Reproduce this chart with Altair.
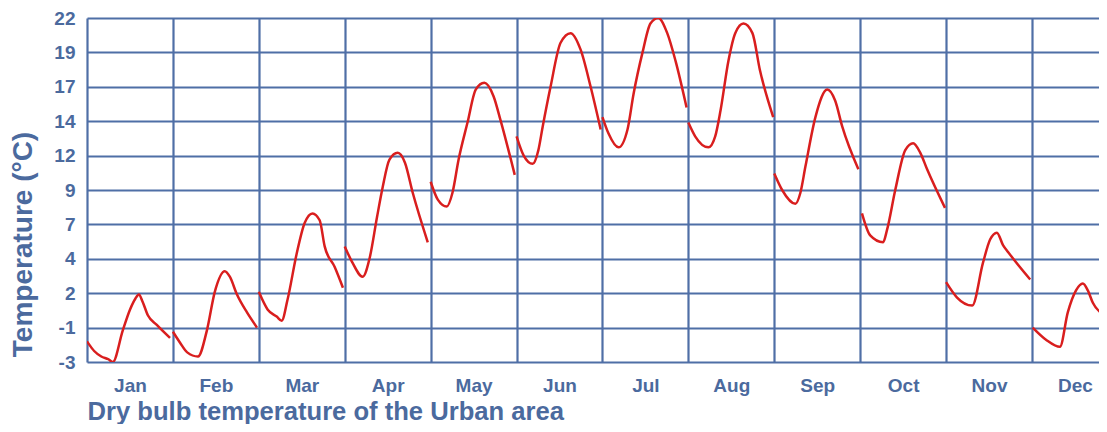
import altair as alt
import pandas as pd

months = ["Jan", "Feb", "Mar", "Apr", "May", "Jun", "Jul", "Aug", "Sep", "Oct", "Nov", "Dec"]

# hour of day (key points) and temperature in °C
hours_jan = [0, 2, 4, 6, 7.2, 10, 12, 13.5, 14.5, 15.5, 17, 19.5, 23.2]
temp_jan = [-1.5, -2.2, -2.6, -2.8, -3.0, -0.7, 0.8, 1.6, 1.9, 1.4, 0.4, -0.3, -1.25]
hours_feb = [0, 2, 4, 7, 9.5, 11.7, 14.5, 15.9, 17.9, 20.7, 23.5]
temp_feb = [-0.8, -1.6, -2.3, -2.6, -0.7, 2.1, 3.6, 3.2, 1.9, 0.6, -0.5]
hours_mar = [0, 2.5, 5, 6.4, 8, 10.6, 12.8, 15, 17, 18.4, 21.2, 23.5]
temp_mar = [2.1, 0.8, 0.3, 0.0, 1.5, 4.9, 7.1, 7.8, 7.3, 5.4, 3.9, 2.4]
hours_apr = [0, 2, 5, 7, 9, 10.6, 12.5, 14.8, 16.8, 19, 23.2]
temp_apr = [5.4, 4.3, 3.2, 4.6, 7.5, 9.7, 11.7, 12.2, 11.5, 9.3, 5.7]
hours_may = [0, 2, 4.5, 6.1, 7.8, 10.3, 12.6, 15, 17.6, 19.5, 23.5]
temp_may = [10.1, 8.8, 8.3, 9.3, 11.7, 14.4, 16.8, 17.3, 16.3, 14.6, 10.6]
hours_jun = [0, 2, 4.5, 6.1, 7.3, 9.5, 12.3, 15.1, 17.9, 20.7, 23.5]
temp_jun = [13.4, 12.0, 11.4, 12.4, 14.1, 17.0, 20.2, 20.9, 19.7, 17.0, 13.9]
hours_jul = [0, 1.7, 4.5, 7, 8.7, 11.2, 13.4, 15.6, 18.1, 20.4, 23.5]
temp_jul = [14.8, 13.6, 12.6, 13.9, 16.5, 19.5, 21.6, 22.0, 20.9, 18.9, 15.5]
hours_aug = [0, 1.9, 5.6, 7.5, 9, 11.2, 13.1, 15.4, 17.9, 20, 23.7]
temp_aug = [14.4, 13.4, 12.6, 13.4, 15.3, 18.9, 20.9, 21.6, 20.9, 18.2, 14.8]
hours_sep = [0, 2.2, 5.9, 7.3, 8.7, 11.5, 14.8, 17, 19, 23.5]
temp_sep = [10.7, 9.5, 8.5, 9.3, 11.2, 14.8, 16.8, 16.0, 14.1, 11.0]
hours_oct = [0.5, 2.8, 6.4, 7.5, 9.8, 12.6, 14.8, 16.8, 18.7, 23.7]
temp_oct = [7.8, 6.2, 5.7, 6.6, 9.5, 12.4, 12.9, 12.2, 11.0, 8.2]
hours_nov = [0, 3, 7.3, 10.3, 12.3, 14.2, 15.9, 17.3, 23.5]
temp_nov = [2.8, 1.7, 1.1, 4.2, 5.9, 6.4, 5.5, 5.0, 3.0]
hours_dec = [0.2, 4, 7.8, 10, 12.3, 14.2, 15.6, 17, 21, 23.5]
temp_dec = [-0.5, -1.4, -1.9, 0.6, 2.2, 2.7, 2.2, 1.3, 0.2, -0.6]

y_tick_values = [-3, -0.5, 2, 4.5, 7, 9.5, 12, 14.5, 17, 19.5, 22]
y_tick_labels = ["-3", "-1", "2", "4", "7", "9", "12", "14", "17", "19", "22"]

series = [
    (hours_jan, temp_jan), (hours_feb, temp_feb), (hours_mar, temp_mar),
    (hours_apr, temp_apr), (hours_may, temp_may), (hours_jun, temp_jun),
    (hours_jul, temp_jul), (hours_aug, temp_aug), (hours_sep, temp_sep),
    (hours_oct, temp_oct), (hours_nov, temp_nov), (hours_dec, temp_dec),
]

rows = []
for i, (hs, ts) in enumerate(series):
    for h, t in zip(hs, ts):
        rows.append({"month": months[i], "x": i + h / 24.0, "temp": t})
df = pd.DataFrame(rows)

x_values = [i * 0.5 for i in range(0, 24)]
x_label_expr = " : ".join(
    f"datum.value == {i + 0.5} ? '{m}'" for i, m in enumerate(months)
) + " : ''"
y_label_expr = " : ".join(
    f"datum.value == {v} ? '{lab}'" for v, lab in zip(y_tick_values, y_tick_labels)
) + " : ''"

BLUE = "#4f6fa6"
TEXT = "#4b6a9e"
FONT = "Liberation Sans"

chart = alt.Chart(df).mark_line(
    color="#d91e1e", strokeWidth=2.5, interpolate="monotone", clip=True
).encode(
    x=alt.X(
        "x:Q",
        scale=alt.Scale(domain=[0, 11.78], nice=False, zero=False),
        axis=alt.Axis(
            values=x_values,
            labelExpr=x_label_expr,
            grid=True,
            gridColor=BLUE,
            gridWidth=2.2,
            gridOpacity={"condition": {"test": "datum.value % 1 === 0", "value": 1}, "value": 0},
            ticks=False,
            tickSize=0,
            domain=False,
            labelPadding=14,
            labelFont=FONT,
            labelFontSize=19,
            labelFontWeight="bold",
            labelColor=TEXT,
            labelOverlap=False,
            labelFlush=False,
            title="Dry bulb temperature of the Urban area",
            titleFont=FONT,
            titleFontSize=25.6,
            titleFontWeight="bold",
            titleColor=TEXT,
            titleAnchor="start",
            titleAlign="left",
            titleBaseline="alphabetic",
            titleX=0,
            titleY=57,
        ),
    ),
    y=alt.Y(
        "temp:Q",
        scale=alt.Scale(domain=[-3, 22], nice=False, zero=False),
        axis=alt.Axis(
            values=y_tick_values,
            labelExpr=y_label_expr,
            grid=True,
            gridColor=BLUE,
            gridWidth=2.2,
            ticks=False,
            tickSize=0,
            domain=False,
            labelPadding=12,
            labelFont=FONT,
            labelFontSize=19,
            labelFontWeight="bold",
            labelColor=TEXT,
            labelOverlap=False,
            labelFlush=False,
            title="Temperature (°C)",
            titleFont=FONT,
            titleFontSize=28,
            titleFontWeight="bold",
            titleColor=TEXT,
            titleAngle=270,
            titleAlign="center",
            titleBaseline="alphabetic",
            titleX=-56,
            titleY=226,
        ),
    ),
    detail="month:N",
).properties(
    width=1012,
    height=344,
    autosize=alt.AutoSizeParams(type="none"),
    padding={"left": 79, "top": 10, "right": 0, "bottom": 62},
).configure_view(stroke=None)

chart.save("out.html", embed_options={"renderer": "svg", "actions": False})
